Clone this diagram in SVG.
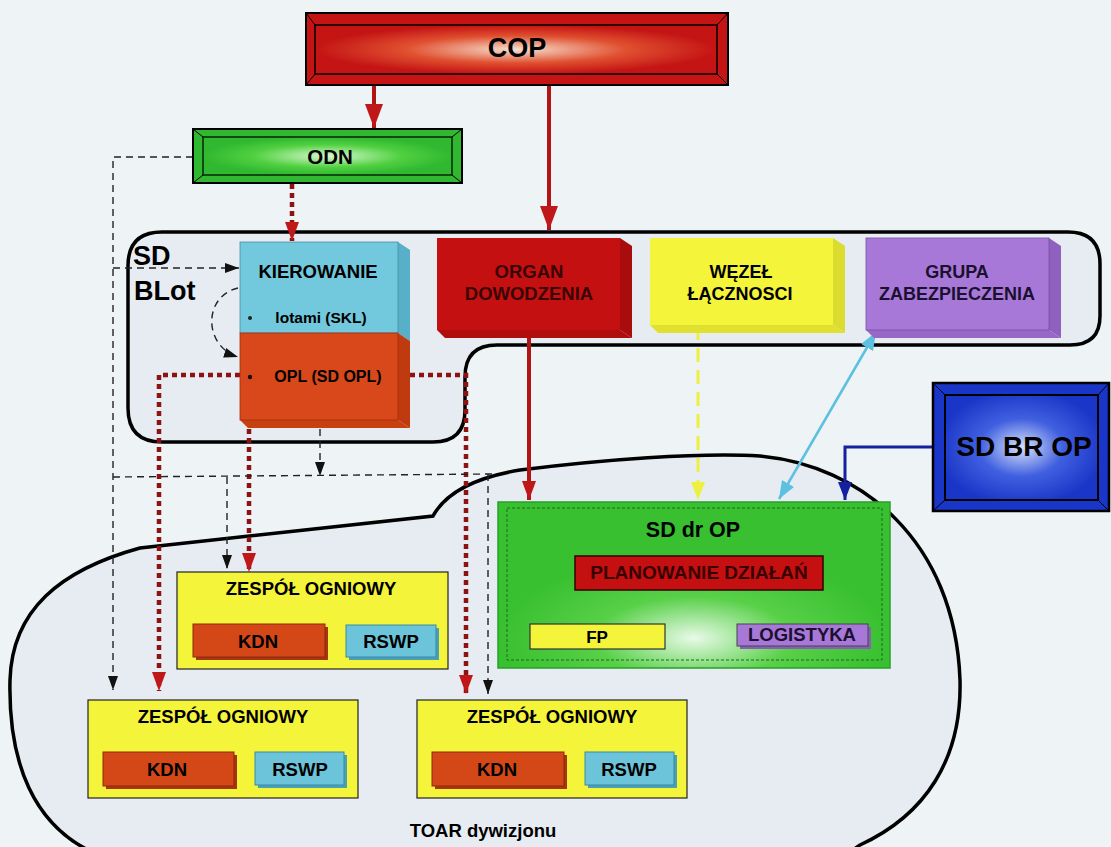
<svg xmlns="http://www.w3.org/2000/svg" width="1111" height="847" viewBox="0 0 1111 847">
<style>
text{font-family:"Liberation Sans",Arial,sans-serif;font-weight:bold;text-anchor:middle;}
.cont{fill:#e6ecf1;stroke:#000;stroke-width:3.5;}
.dash{fill:none;stroke:#222;stroke-width:1.4;stroke-dasharray:7 5;}
.dot{fill:none;stroke:#8e1212;stroke-width:4.5;stroke-dasharray:5 4;}
.red{fill:none;stroke:#b01414;stroke-width:4;}
.curv{fill:none;stroke:#4a5a50;stroke-width:1.8;stroke-dasharray:7 5;}
.edge{stroke:#000;stroke-width:1;}
</style>
<defs>
<radialGradient id="gCOP" cx="0.5" cy="0.5" r="0.5"><stop offset="0" stop-color="#f6e0d0"/><stop offset="0.55" stop-color="#e05030"/><stop offset="1" stop-color="#c41414"/></radialGradient>
<radialGradient id="gODN" cx="0.5" cy="0.5" r="0.5"><stop offset="0" stop-color="#d8f8d0"/><stop offset="0.6" stop-color="#50d040"/><stop offset="1" stop-color="#30b830"/></radialGradient>
<radialGradient id="gBR" cx="0.5" cy="0.5" r="0.55"><stop offset="0" stop-color="#d8e0f8"/><stop offset="0.5" stop-color="#4060e0"/><stop offset="1" stop-color="#1a36c8"/></radialGradient>
<radialGradient id="gDR" cx="0.5" cy="0.82" r="0.5"><stop offset="0" stop-color="#e8fae8"/><stop offset="0.5" stop-color="#58d048"/><stop offset="1" stop-color="#38c030"/></radialGradient>
<marker id="aRedB" markerUnits="userSpaceOnUse" markerWidth="26" markerHeight="20" refX="24" refY="9" orient="auto"><path d="M0,0 L24,9 L0,18 z" fill="#c01818"/></marker>
<marker id="aRed" markerUnits="userSpaceOnUse" markerWidth="20" markerHeight="16" refX="19" refY="7" orient="auto"><path d="M0,0 L19,7 L0,14 z" fill="#c01818"/></marker>
<marker id="aBlk" markerUnits="userSpaceOnUse" markerWidth="14" markerHeight="10" refX="14" refY="5" orient="auto"><path d="M0,0 L14,5 L0,10 z" fill="#111"/></marker>
<marker id="aYel" markerUnits="userSpaceOnUse" markerWidth="18" markerHeight="14" refX="18" refY="7" orient="auto"><path d="M0,0 L18,7 L0,14 z" fill="#eef040"/></marker>
<marker id="aCyan" markerUnits="userSpaceOnUse" markerWidth="18" markerHeight="14" refX="18" refY="7" orient="auto-start-reverse"><path d="M0,0 L18,7 L0,14 z" fill="#5cc0e0"/></marker>
<marker id="aBlue" markerUnits="userSpaceOnUse" markerWidth="18" markerHeight="14" refX="18" refY="7" orient="auto"><path d="M0,0 L18,7 L0,14 z" fill="#1420a0"/></marker>
</defs>
<rect x="0" y="0" width="1111" height="847" fill="#eef3f6"/>

<g id="toar">
<path class="cont" d="M92,852 C35,825 8,765 10,680 C12,610 60,570 140,548 L433,516 C445,494 472,478 520,470 C600,460 700,452 760,456 C860,465 955,540 960,680 C962,760 925,815 860,845 L850,852 Z"/>
<text x="483" y="837" font-size="18.5">TOAR dywizjonu</text>
</g>

<g id="sdblot">
<path class="cont" d="M162,232 H1068 Q1100,232 1100,264 V316 Q1100,345 1070,345 H497 Q465,345 465,377 V410 Q465,442 433,442 H162 Q128,442 128,408 V266 Q128,232 162,232 Z"/>
<text x="133" y="265" font-size="27" style="text-anchor:start">SD</text>
<text x="134" y="300" font-size="27" style="text-anchor:start">BLot</text>
</g>

<g id="connectors">
<path class="red" d="M374,85 V128" marker-end="url(#aRedB)"/>
<path class="red" d="M549,85 V230" marker-end="url(#aRedB)"/>
<path class="dot" d="M292,184 V241" marker-end="url(#aRed)"/>
<path class="dash" d="M193,157 H113 V690" marker-end="url(#aBlk)"/>
<path class="dash" d="M113,268 H239" marker-end="url(#aBlk)"/>
<path class="dash" d="M238,288 C203,296 203,346 238,357" marker-end="url(#aBlk)"/>
<path class="dot" d="M240,375 H159 V691" marker-end="url(#aRed)"/>
<path class="dot" d="M410,375 H466 V694" marker-end="url(#aRed)"/>
<path class="dot" d="M249,429 V572" marker-end="url(#aRed)"/>
<path class="dash" d="M320,429 V476" marker-end="url(#aBlk)"/>
<path class="dash" d="M113,477 L494,474"/>
<path class="dash" d="M227,477 V569" marker-end="url(#aBlk)"/>
<path class="dash" d="M488,474 V694" marker-end="url(#aBlk)"/>
<path class="red" d="M529,338 V500" marker-end="url(#aRed)"/>
<path d="M698,326 V500" fill="none" stroke="#eef040" stroke-width="3" stroke-dasharray="14 8" marker-end="url(#aYel)"/>
<path d="M876,332 L779,499" fill="none" stroke="#5cc0e0" stroke-width="2.5" marker-start="url(#aCyan)" marker-end="url(#aCyan)"/>
<path d="M933,447 H845 V500" fill="none" stroke="#1420a0" stroke-width="3" marker-end="url(#aBlue)"/>
<path class="curv" d="M368,624 Q330,590 274,623" marker-end="url(#aBlk)"/>
<path class="curv" d="M276,751 Q238,719 184,752" marker-end="url(#aBlk)"/>
<path class="curv" d="M607,751 Q566,719 513,752" marker-end="url(#aBlk)"/>
</g>

<g id="cop">
<rect x="306" y="13" width="422" height="72" fill="#c41414" stroke="#000" stroke-width="2"/>
<rect x="315" y="25" width="402" height="49" fill="url(#gCOP)" stroke="#000" stroke-width="1.5"/>
<path class="edge" d="M306,13 L315,25 M728,13 L717,25 M306,85 L315,74 M728,85 L717,74"/>
<text x="517" y="57" font-size="27">COP</text>
</g>

<g id="odn">
<rect x="193" y="129" width="269" height="54" fill="#30b830" stroke="#000" stroke-width="2"/>
<rect x="203" y="137" width="249" height="38" fill="url(#gODN)" stroke="#000" stroke-width="1.2"/>
<path class="edge" d="M193,129 L203,137 M462,129 L452,137 M193,183 L203,175 M462,183 L452,175"/>
<text x="330" y="164" font-size="20.5">ODN</text>
</g>

<g id="kierowanie">
<polygon points="398,242 410,250 410,341 398,333" fill="#58b0c8"/>
<rect x="240" y="242" width="158" height="91" fill="#72c8dc" stroke="#4a90a0" stroke-width="0.8"/>
<text x="318" y="278" font-size="18.5">KIEROWANIE</text>
<circle cx="250" cy="318" r="2" fill="#222"/>
<text x="321" y="323" font-size="15.5">lotami (SKL)</text>
</g>

<g id="opl">
<polygon points="398,333 410,341 410,428 398,420" fill="#c03a10"/>
<polygon points="240,420 398,420 410,428 248,428" fill="#c8400f"/>
<rect x="240" y="333" width="158" height="87" fill="#d8481a" stroke="#a03010" stroke-width="0.8"/>
<circle cx="250" cy="377" r="2.2" fill="#111"/>
<text x="328" y="382" font-size="16">OPL (SD OPL)</text>
</g>

<g id="organ">
<polygon points="620,238 632,246 632,338 620,330" fill="#a80c0c"/>
<polygon points="437,330 620,330 632,338 445,338" fill="#b00e0e"/>
<rect x="437" y="238" width="183" height="92" fill="#c41010"/>
<text x="529" y="278" font-size="18.5" fill="#3a0505">ORGAN</text>
<text x="529" y="300" font-size="18.5" fill="#3a0505">DOWODZENIA</text>
</g>

<g id="wezel">
<polygon points="833,238 845,246 845,333 833,325" fill="#dcdc30"/>
<polygon points="650,325 833,325 845,333 658,333" fill="#e0e030"/>
<rect x="650" y="238" width="183" height="87" fill="#f4f43a"/>
<text x="741" y="278" font-size="18">WĘZEŁ</text>
<text x="740" y="300" font-size="18">ŁĄCZNOSCI</text>
</g>

<g id="grupa">
<polygon points="1049,238 1061,246 1061,338 1049,330" fill="#9060c0"/>
<polygon points="866,330 1049,330 1061,338 874,338" fill="#9868c8"/>
<rect x="866" y="238" width="183" height="92" fill="#a878d8" stroke="#7050a0" stroke-width="0.8"/>
<text x="957" y="278" font-size="18" fill="#1a1030">GRUPA</text>
<text x="957" y="300" font-size="18" fill="#1a1030">ZABEZPIECZENIA</text>
</g>

<g id="sdbrop">
<rect x="933" y="383" width="176" height="128" fill="#1a36c8" stroke="#000" stroke-width="2.5"/>
<rect x="945" y="395" width="153" height="105" fill="url(#gBR)" stroke="#000" stroke-width="2"/>
<path class="edge" d="M933,383 L945,395 M1109,383 L1098,395 M933,511 L945,500 M1109,511 L1098,500"/>
<text x="1024" y="456" font-size="28">SD BR OP</text>
</g>

<g id="sddrop">
<rect x="498" y="502" width="392" height="166" fill="url(#gDR)" stroke="#28a028" stroke-width="1.5"/>
<rect x="507" y="508" width="375" height="152" fill="none" stroke="#1a6a1a" stroke-width="1" stroke-dasharray="3 2"/>
<text x="693" y="537" font-size="21.5">SD dr OP</text>
</g>

<g id="planowanie">
<rect x="575" y="556" width="248" height="34" fill="#c41010" stroke="#300" stroke-width="1.5"/>
<text x="699" y="579" font-size="19" fill="#3a0000">PLANOWANIE DZIAŁAŃ</text>
</g>

<g id="fp">
<rect x="530" y="624" width="135" height="25" fill="#f4f43a" stroke="#333" stroke-width="1.2"/>
<text x="597" y="643" font-size="17">FP</text>
</g>

<g id="logistyka">
<rect x="740" y="627" width="131" height="22" fill="#8860b8"/>
<rect x="737" y="624" width="131" height="22" fill="#a878d8" stroke="#444" stroke-width="1"/>
<text x="802" y="641" font-size="18.5" fill="#1a1030">LOGISTYKA</text>
</g>

<g id="zo1">
<rect x="177" y="572" width="271" height="97" fill="#f4f43a" stroke="#222" stroke-width="1.2"/>
<text x="311" y="595" font-size="18.5">ZESPÓŁ OGNIOWY</text>
<rect x="196" y="627" width="132" height="33" fill="#a83410"/>
<rect x="193" y="624" width="132" height="33" fill="#d44818" stroke="#8a2a0a" stroke-width="1"/>
<text x="258" y="648" font-size="18.5">KDN</text>
<rect x="349" y="628" width="90" height="32" fill="#4aa0b8"/>
<rect x="346" y="625" width="90" height="32" fill="#6cc4da" stroke="#3a8aa0" stroke-width="1"/>
<text x="391" y="648" font-size="18.5">RSWP</text>
</g>

<g id="zo2">
<rect x="88" y="700" width="270" height="98" fill="#f4f43a" stroke="#222" stroke-width="1.2"/>
<text x="223" y="723" font-size="18.5">ZESPÓŁ OGNIOWY</text>
<rect x="106" y="755" width="131" height="34" fill="#a83410"/>
<rect x="103" y="752" width="131" height="34" fill="#d44818" stroke="#8a2a0a" stroke-width="1"/>
<text x="167" y="776" font-size="18.5">KDN</text>
<rect x="258" y="755" width="89" height="33" fill="#4aa0b8"/>
<rect x="255" y="752" width="89" height="33" fill="#6cc4da" stroke="#3a8aa0" stroke-width="1"/>
<text x="300" y="776" font-size="18.5">RSWP</text>
</g>

<g id="zo3">
<rect x="417" y="700" width="270" height="98" fill="#f4f43a" stroke="#222" stroke-width="1.2"/>
<text x="552" y="723" font-size="18.5">ZESPÓŁ OGNIOWY</text>
<rect x="435" y="755" width="132" height="34" fill="#a83410"/>
<rect x="432" y="752" width="132" height="34" fill="#d44818" stroke="#8a2a0a" stroke-width="1"/>
<text x="497" y="776" font-size="18.5">KDN</text>
<rect x="588" y="755" width="89" height="33" fill="#4aa0b8"/>
<rect x="585" y="752" width="89" height="33" fill="#6cc4da" stroke="#3a8aa0" stroke-width="1"/>
<text x="629" y="776" font-size="18.5">RSWP</text>
</g>
</svg>
